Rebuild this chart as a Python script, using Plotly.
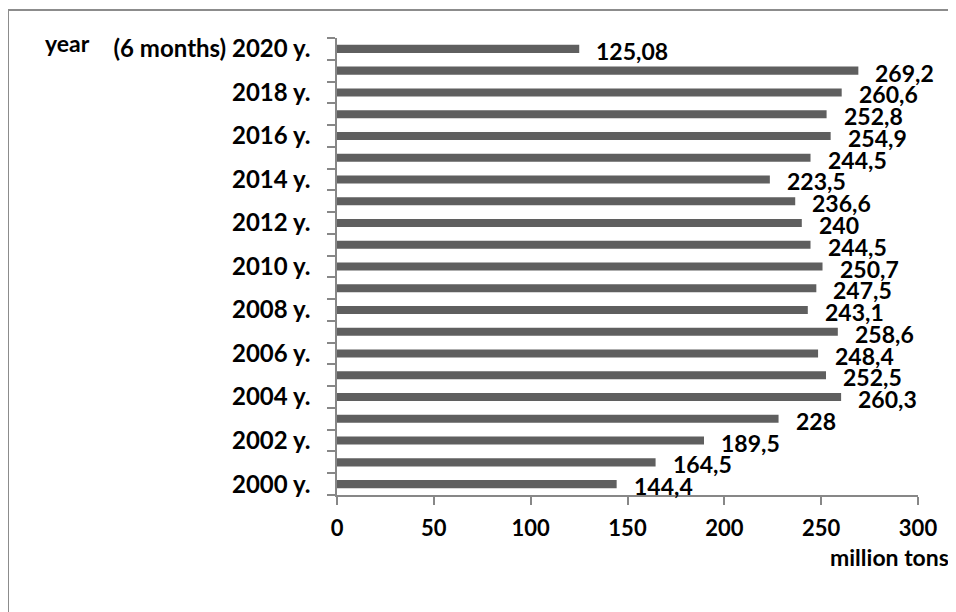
import plotly.graph_objects as go

years = [2000, 2001, 2002, 2003, 2004, 2005, 2006, 2007, 2008, 2009, 2010,
         2011, 2012, 2013, 2014, 2015, 2016, 2017, 2018, 2019, 2020]
values = [144.4, 164.5, 189.5, 228, 260.3, 252.5, 248.4, 258.6, 243.1, 247.5, 250.7,
          244.5, 240, 236.6, 223.5, 244.5, 254.9, 252.8, 260.6, 269.2, 125.08]
tick_labels = ["2000 y.", "", "2002 y.", "", "2004 y.", "", "2006 y.", "", "2008 y.", "",
               "2010 y.", "", "2012 y.", "", "2014 y.", "", "2016 y.", "", "2018 y.", "",
               "(6 months) 2020 y."]
value_labels = [f"{v:g}".replace(".", ",") for v in values]
categories = [f"y{y}" for y in years]

# page has an 8px body margin; work in page pixels and convert
OFF = 8
W, H = 956, 612
L, T = 337 - OFF, 38 - OFF
PW, PH = 581, 457
R, B = W - L - PW, H - T - PH


def px(x):
    return (x - OFF - L) / PW


def py(y):
    return 1 - (y - OFF - T) / PH


FONT = "Lato"
BAR = "#5f5f5f"
AX = "#878787"

fig = go.Figure()
fig.add_trace(go.Bar(
    x=values, y=categories, orientation="h",
    marker=dict(color=BAR, line=dict(width=0)),
    hoverinfo="x",
))

annotations = []
for i, (v, t) in enumerate(zip(values, value_labels)):
    annotations.append(dict(
        x=v, y=i, xref="x", yref="y", text=f"<b>{t}</b>", showarrow=False,
        xanchor="left", yanchor="middle", xshift=15, yshift=-2,
        font=dict(family=FONT, size=23, color="black"),
    ))
annotations.append(dict(
    x=px(43), y=py(43), xref="paper", yref="paper", text="<b>year</b>",
    showarrow=False, xanchor="left", yanchor="middle",
    font=dict(family=FONT, size=23, color="black"),
))
annotations.append(dict(
    x=px(828), y=py(557), xref="paper", yref="paper", text="<b>million tons</b>",
    showarrow=False, xanchor="left", yanchor="middle",
    font=dict(family=FONT, size=23, color="black"),
))

shapes = [
    dict(type="line", xref="paper", yref="paper", x0=px(8), x1=px(990), y0=py(10), y1=py(10),
         line=dict(color="#8c8c8c", width=2)),
    dict(type="line", xref="paper", yref="paper", x0=px(8), x1=px(8), y0=py(10), y1=py(650),
         line=dict(color="#8c8c8c", width=2)),
]

fig.update_layout(
    width=W, height=H,
    margin=dict(l=L, r=R, t=T, b=B, pad=0),
    paper_bgcolor="white", plot_bgcolor="white",
    bargap=0.63,
    showlegend=False,
    annotations=annotations,
    shapes=shapes,
    font=dict(family=FONT, color="black"),
)
fig.update_xaxes(
    range=[0, 300], tickmode="array", tickvals=[0, 50, 100, 150, 200, 250, 300],
    ticktext=[f"<b>{v}</b>" for v in [0, 50, 100, 150, 200, 250, 300]],
    showgrid=False, zeroline=False, showline=True, linecolor=AX, linewidth=1.5,
    ticks="outside", ticklen=8, tickcolor=AX, tickwidth=1.5,
    tickfont=dict(family=FONT, size=22, color="black"),
    ticklabelstandoff=5,
)
fig.update_yaxes(
    type="category", categoryorder="array", categoryarray=categories,
    range=[-0.5, len(categories) - 0.5], autorange=False,
    tickmode="array", tickvals=categories,
    ticktext=[f"<b>{t}</b>" if t else "" for t in tick_labels],
    showgrid=False, zeroline=False, showline=True, linecolor=AX, linewidth=1.5,
    ticks="outside", ticklen=8, tickcolor=AX, tickwidth=1.5, tickson="boundaries",
    tickfont=dict(family=FONT, size=24, color="black"),
    ticklabelstandoff=20,
)

fig.write_html("out.html")
